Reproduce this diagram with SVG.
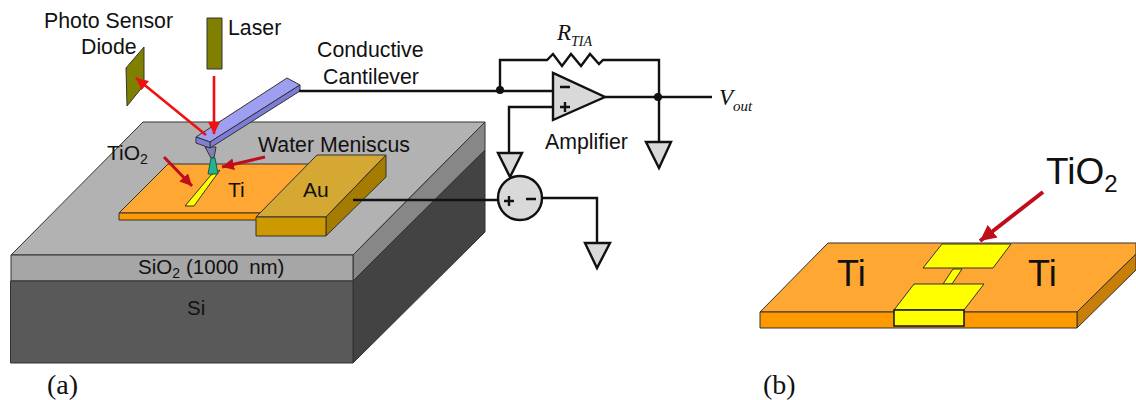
<svg xmlns="http://www.w3.org/2000/svg" width="1136" height="400" viewBox="0 0 1136 400">
<defs>
<style>
text{font-family:"Liberation Sans",Arial,sans-serif;fill:#111}
.serif{font-family:"Liberation Serif","Times New Roman",serif}
.f{stroke:#333;stroke-width:1;stroke-linejoin:round}
.w{fill:none;stroke:#111;stroke-width:2.4;stroke-linejoin:miter}
.g{fill:#d9d9d9;stroke:#111;stroke-width:2.4;stroke-linejoin:miter}
.red{fill:none;stroke:#f01010;stroke-width:2.6}
.dred{fill:none;stroke:#c00d1c;stroke-width:3}
</style>
<marker id="ar" markerUnits="userSpaceOnUse" markerWidth="13" markerHeight="12" refX="12" refY="6" orient="auto"><path d="M0 0L12 6L0 12z" fill="#f01010"/></marker>
<marker id="ad" markerUnits="userSpaceOnUse" markerWidth="13" markerHeight="12" refX="12" refY="6" orient="auto"><path d="M0 0L12 6L0 12z" fill="#c00d1c"/></marker>
<marker id="adl" markerUnits="userSpaceOnUse" markerWidth="17" markerHeight="16" refX="16" refY="8" orient="auto"><path d="M0 0L16 8L0 16z" fill="#c00d1c"/></marker>
</defs>
<rect width="1136" height="400" fill="#fff"/>
<g id="substrate">
<polygon class="f" points="11,255 143,122 485,122 353,255" fill="#b2b2b2"/>
<polygon class="f" points="353,255 485,122 485,150 353,281" fill="#878787"/>
<polygon class="f" points="353,281 485,150 485,232 353,363" fill="#434343"/>
<rect class="f" x="11" y="255" width="342" height="26" fill="#a6a6a6"/>
<rect class="f" x="10.500" y="281" width="342.500" height="82" fill="#595959"/>
<text x="138" y="274" font-size="20.500">SiO<tspan font-size="14" dy="4">2</tspan><tspan dy="-4" x="186" word-spacing="5">(1000 nm)</tspan></text>
<text x="187" y="315" font-size="20.500">Si</text>
</g>
<g id="ti-electrode">
<polygon class="f" points="119,213 168,164 320,164 260,213" fill="#ffa733"/>
<rect class="f" x="119" y="213" width="150" height="7" fill="#ff9900"/>
<text x="228" y="197" font-size="21">Ti</text>
</g>
<g id="tio2-strip"><polygon class="f" points="185,206 194,206 220,170 211,175" fill="#ffff00"/></g>
<g id="au-electrode">
<polygon class="f" points="256,217 317,155 386,155 326,217" fill="#d4a832"/>
<polygon class="f" points="326,217 386,155 386,177 326,236" fill="#a67c00"/>
<rect class="f" x="256" y="217" width="70" height="19" fill="#cc9900"/>
<text x="303" y="197" font-size="21">Au</text>
</g>
<g id="cantilever">
<polygon class="f" points="205,147 216,147 214,158 211,158" fill="#7f7fb0"/>
<polygon class="f" points="196,137 287,78 300,85 210,142" fill="#9f9ff2"/>
<polygon class="f" points="210,142 300,85 300,91 210,148" fill="#7c7cd8"/>
<polygon class="f" points="196,137 210,142 210,148 196,143" fill="#8080d0"/>
</g>
<g id="meniscus"><polygon points="211,158 215,158 218,174 208,174" fill="#1fb58f" stroke="#1a5a50"/></g>
<g id="photo-sensor">
<polygon class="f" points="126,68 144,47 144,85 127,106" fill="#808000"/>
<text x="44" y="28" font-size="21.300">Photo Sensor</text>
<text x="81" y="54" font-size="21.300">Diode</text>
</g>
<g id="laser">
<rect class="f" x="207" y="18" width="15" height="51" fill="#808000"/>
<text x="228" y="35" font-size="21.300">Laser</text>
</g>
<g id="labels">
<text x="317" y="57" font-size="21.300">Conductive</text>
<text x="323" y="84" font-size="21.300">Cantilever</text>
<text x="258" y="152" font-size="21.300">Water Meniscus</text>
<text x="107" y="160" font-size="21">TiO<tspan font-size="14" dy="4">2</tspan></text>
<text x="47" y="394" font-size="28" class="serif">(a)</text>
<text x="763" y="394" font-size="28" class="serif">(b)</text>
</g>
<g id="connectors">
<path class="w" d="M299 91H553"/>
<path class="w" d="M500 91V60H547L553 54L562 66L571 54L581 66L590 54L599 64L603 60H659V168"/>
<path class="w" d="M605 97H712"/>
<path class="w" d="M553 107H509V153"/>
<path class="w" d="M353 200H498"/>
<path class="w" d="M542 198H597V243"/>
<circle cx="500" cy="90" r="4" fill="#111"/>
<circle cx="658" cy="97" r="4" fill="#111"/>
<path class="red" d="M214 76V134" marker-end="url(#ar)"/>
<path class="red" d="M206 135L136 78" marker-end="url(#ar)"/>
<path class="dred" d="M164 157L192 186" marker-end="url(#ad)"/>
<path class="dred" d="M265 157L222 167" marker-end="url(#ad)"/>
<path class="dred" d="M1043 192L980 241" stroke-width="4" style="stroke-width:4" marker-end="url(#adl)"/>
</g>
<g id="amplifier">
<polygon class="g" points="553,73 553,120 605,97"/>
<path class="w" d="M560 87H570M560 107H570M565 102V112"/>
<text x="545" y="149" font-size="21.300">Amplifier</text>
</g>
<g id="rtia"><text x="557" y="40" font-size="23" font-style="italic" class="serif">R<tspan font-size="14" dy="6">TIA</tspan></text></g>
<g id="vout"><text x="719" y="105" font-size="23" font-style="italic" class="serif">V<tspan font-size="15" dy="6">out</tspan></text></g>
<g id="ground-1"><polygon class="g" points="646,142 671,142 659,168"/></g>
<g id="ground-2"><polygon class="g" points="498,153 522,153 510,177"/></g>
<g id="ground-3"><polygon class="g" points="585,243 610,243 597,268"/></g>
<g id="source">
<circle class="g" cx="520" cy="198" r="22"/>
<path class="w" d="M504 201H514M509 196V206M526 199H536"/>
</g>
<g id="device-b">
<polygon class="f" points="760,312 828,243 1136,243 1136,254 1077,312" fill="#ffa733"/>
<polygon class="f" points="1077,312 1136,254 1136,270 1077,328" fill="#c87f0a"/>
<rect class="f" x="760" y="312" width="317" height="16" fill="#ff9900"/>
<polygon class="f" points="942,244 1011,244 993,268 923,268" fill="#ffff00"/>
<polygon class="f" points="953,269 962,269 952,284 943,284" fill="#ffff00"/>
<polygon class="f" points="914,284 984,284 964,310 894,310" fill="#ffff00"/>
<rect x="894" y="310" width="70" height="16" fill="#ffff00" stroke="#111" stroke-width="1.500"/>
<text x="837" y="286" font-size="36">Ti</text>
<text x="1028" y="286" font-size="36">Ti</text>
<text x="1046" y="184" font-size="37">TiO<tspan font-size="24" dy="8">2</tspan></text>
</g>
</svg>
